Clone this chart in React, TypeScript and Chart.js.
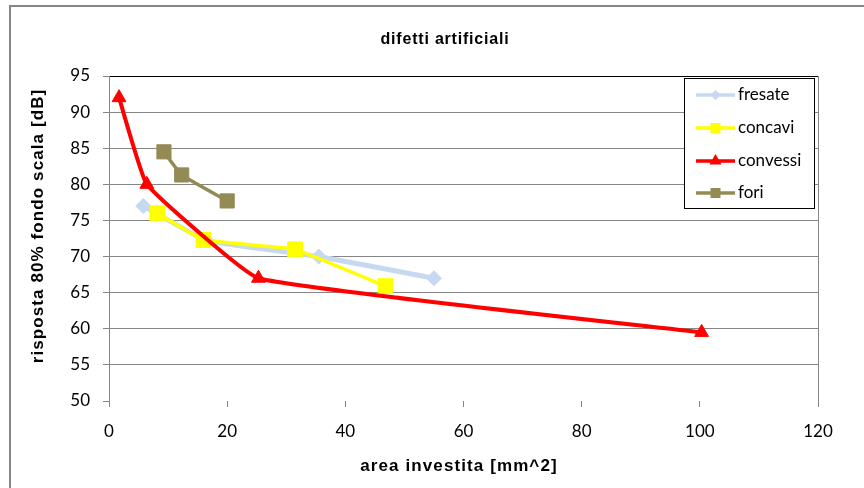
import React, { useEffect, useRef } from "react";
import { Chart, registerables } from "chart.js";

Chart.register(...registerables);

const chartTitle = "difetti artificiali";
const xTitle = "area investita [mm^2]";
const yTitle = "risposta 80% fondo scala [dB]";

const seriesNames = ["fresate", "concavi", "convessi", "fori"];
const seriesColors = ["#C6D9F1", "#FFFF00", "#FF0000", "#948A54"];

const fresateX = [5.8, 16.5, 35.5, 55];
const fresateY = [77, 72.2, 70, 67];
const concaviX = [8.2, 16, 31.5, 46.8];
const concaviY = [76, 72.3, 71, 65.9];
const convessiX = [1.7, 6.4, 25.3, 100.3];
const convessiY = [92, 80, 67, 59.5];
const foriX = [9.3, 12.3, 20];
const foriY = [84.5, 81.3, 77.7];

const xTicks = [0, 20, 40, 60, 80, 100, 120];
const yTicks = [50, 55, 60, 65, 70, 75, 80, 85, 90, 95];

const pts = (xs: number[], ys: number[]) => xs.map((x, i) => ({ x, y: ys[i] }));

const GRID = "#868686";

function drawMarker(ctx: CanvasRenderingContext2D, style: string, x: number, y: number, r: number, color: string) {
  ctx.save();
  ctx.fillStyle = color;
  ctx.beginPath();
  if (style === "rectRot") {
    ctx.moveTo(x, y - r);
    ctx.lineTo(x + r, y);
    ctx.lineTo(x, y + r);
    ctx.lineTo(x - r, y);
  } else if (style === "rect") {
    ctx.rect(x - r, y - r, 2 * r, 2 * r);
  } else {
    ctx.moveTo(x, y - r);
    ctx.lineTo(x + r * 0.87, y + r * 0.5);
    ctx.lineTo(x - r * 0.87, y + r * 0.5);
  }
  ctx.closePath();
  ctx.fill();
  ctx.restore();
}

const decorPlugin = {
  id: "decor",
  beforeDraw(chart: any) {
    const ctx = chart.ctx as CanvasRenderingContext2D;
    ctx.save();
    ctx.fillStyle = "#FFFFFF";
    ctx.fillRect(0, 0, chart.width, chart.height);
    ctx.strokeStyle = GRID;
    ctx.lineWidth = 2;
    ctx.beginPath();
    ctx.moveTo(10, chart.height + 5);
    ctx.lineTo(10, 6);
    ctx.lineTo(chart.width + 5, 6);
    ctx.stroke();
    ctx.restore();
  },
  afterDraw(chart: any) {
    const ctx = chart.ctx as CanvasRenderingContext2D;
    ctx.save();
    ctx.fillStyle = "#000000";
    ctx.textAlign = "center";
    ctx.textBaseline = "middle";
    (ctx as any).letterSpacing = "0.8px";
    ctx.font = "bold 16px 'Liberation Sans', Arial, sans-serif";
    ctx.fillText(chartTitle, 445, 40);
    (ctx as any).letterSpacing = "1.1px";
    ctx.font = "bold 17px 'Liberation Sans', Arial, sans-serif";
    ctx.fillText(xTitle, 459, 466);
    ctx.save();
    ctx.translate(38, 226);
    ctx.rotate(-Math.PI / 2);
    ctx.fillText(yTitle, 0, 0);
    ctx.restore();
    (ctx as any).letterSpacing = "0px";

    // legend
    const lx = 684.5, ly = 78.5, lw = 130, lh = 130;
    ctx.fillStyle = "#FFFFFF";
    ctx.fillRect(lx, ly, lw, lh);
    ctx.strokeStyle = "#000000";
    ctx.lineWidth = 1;
    ctx.strokeRect(lx, ly, lw, lh);
    const rows = [95, 128, 161, 193];
    const styles = ["rectRot", "rect", "triangle", "rect"];
    const sizes = [5, 5, 7, 5];
    ctx.textAlign = "left";
    ctx.font = "17px Lato, sans-serif";
    seriesNames.forEach((name, i) => {
      const y = rows[i];
      ctx.strokeStyle = seriesColors[i];
      ctx.lineWidth = 3.5;
      ctx.beginPath();
      ctx.moveTo(696, y);
      ctx.lineTo(735, y);
      ctx.stroke();
      drawMarker(ctx, styles[i], 715.5, y, sizes[i], seriesColors[i]);
      ctx.fillStyle = "#000000";
      ctx.fillText(name, 738, y);
    });
    ctx.restore();
  },
};

export default function App() {
  const ref = useRef<HTMLCanvasElement | null>(null);
  useEffect(() => {
    if (!ref.current) return;
    const chart = new Chart(ref.current, {
      type: "line",
      data: {
        datasets: [
          {
            label: seriesNames[0],
            data: pts(fresateX, fresateY),
            borderColor: seriesColors[0],
            backgroundColor: seriesColors[0],
            borderWidth: 5,
            pointStyle: "rectRot",
            pointRadius: 7.5,
            pointBorderWidth: 1,
            tension: 0.08,
            order: 4,
          },
          {
            label: seriesNames[1],
            data: pts(concaviX, concaviY),
            borderColor: seriesColors[1],
            backgroundColor: seriesColors[1],
            borderWidth: 3.5,
            pointStyle: "rect",
            pointRadius: 10.5,
            pointBorderWidth: 1,
            tension: 0.08,
            order: 3,
          },
          {
            label: seriesNames[2],
            data: pts(convessiX, convessiY),
            borderColor: seriesColors[2],
            backgroundColor: seriesColors[2],
            borderWidth: 4,
            pointStyle: "triangle",
            pointRadius: 8,
            pointBorderWidth: 1,
            tension: 0.1,
            order: 2,
          },
          {
            label: seriesNames[3],
            data: pts(foriX, foriY),
            borderColor: seriesColors[3],
            backgroundColor: seriesColors[3],
            borderWidth: 3.5,
            pointStyle: "rect",
            pointRadius: 10,
            pointBorderWidth: 1,
            tension: 0.1,
            order: 1,
          },
        ],
      },
      options: {
        responsive: false,
        animation: false,
        devicePixelRatio: 1,
        layout: { padding: { top: 76, right: 46, left: 0, bottom: 0 } },
        plugins: {
          legend: { display: false },
          title: { display: false },
          tooltip: { enabled: false },
        },
        scales: {
          x: {
            type: "linear",
            min: 0,
            max: 120,
            afterFit: (s: any) => {
              s.height = 87;
            },
            afterBuildTicks: (s: any) => {
              s.ticks = xTicks.map((v) => ({ value: v }));
            },
            ticks: {
              color: "#000000",
              font: { family: "Lato, sans-serif", size: 17 },
              padding: 14,
              maxRotation: 0,
            },
            grid: {
              color: (c: any) => (c.tick && c.tick.value === 120 ? GRID : "rgba(0,0,0,0)"),
              tickColor: GRID,
              tickLength: 6,
              lineWidth: 1,
            },
            border: { display: false },
          },
          y: {
            type: "linear",
            min: 50,
            max: 95,
            afterFit: (s: any) => {
              s.width = 109;
            },
            afterBuildTicks: (s: any) => {
              s.ticks = yTicks.map((v) => ({ value: v }));
            },
            ticks: {
              color: "#000000",
              font: { family: "Lato, sans-serif", size: 17 },
              padding: 13,
            },
            grid: {
              color: (c: any) =>
                c.tick && c.tick.value === 95 ? "#000000" : c.tick && c.tick.value === 50 ? "rgba(0,0,0,0)" : GRID,
              tickColor: GRID,
              tickLength: 6,
              lineWidth: 1,
            },
            border: { display: true, color: GRID, width: 1 },
          },
        },
      },
      plugins: [decorPlugin],
    } as any);
    return () => chart.destroy();
  }, []);
  return (
    <div style={{ position: "absolute", left: 0, top: 0, width: 864, height: 488 }}>
      <canvas ref={ref} width={864} height={488} />
    </div>
  );
}
